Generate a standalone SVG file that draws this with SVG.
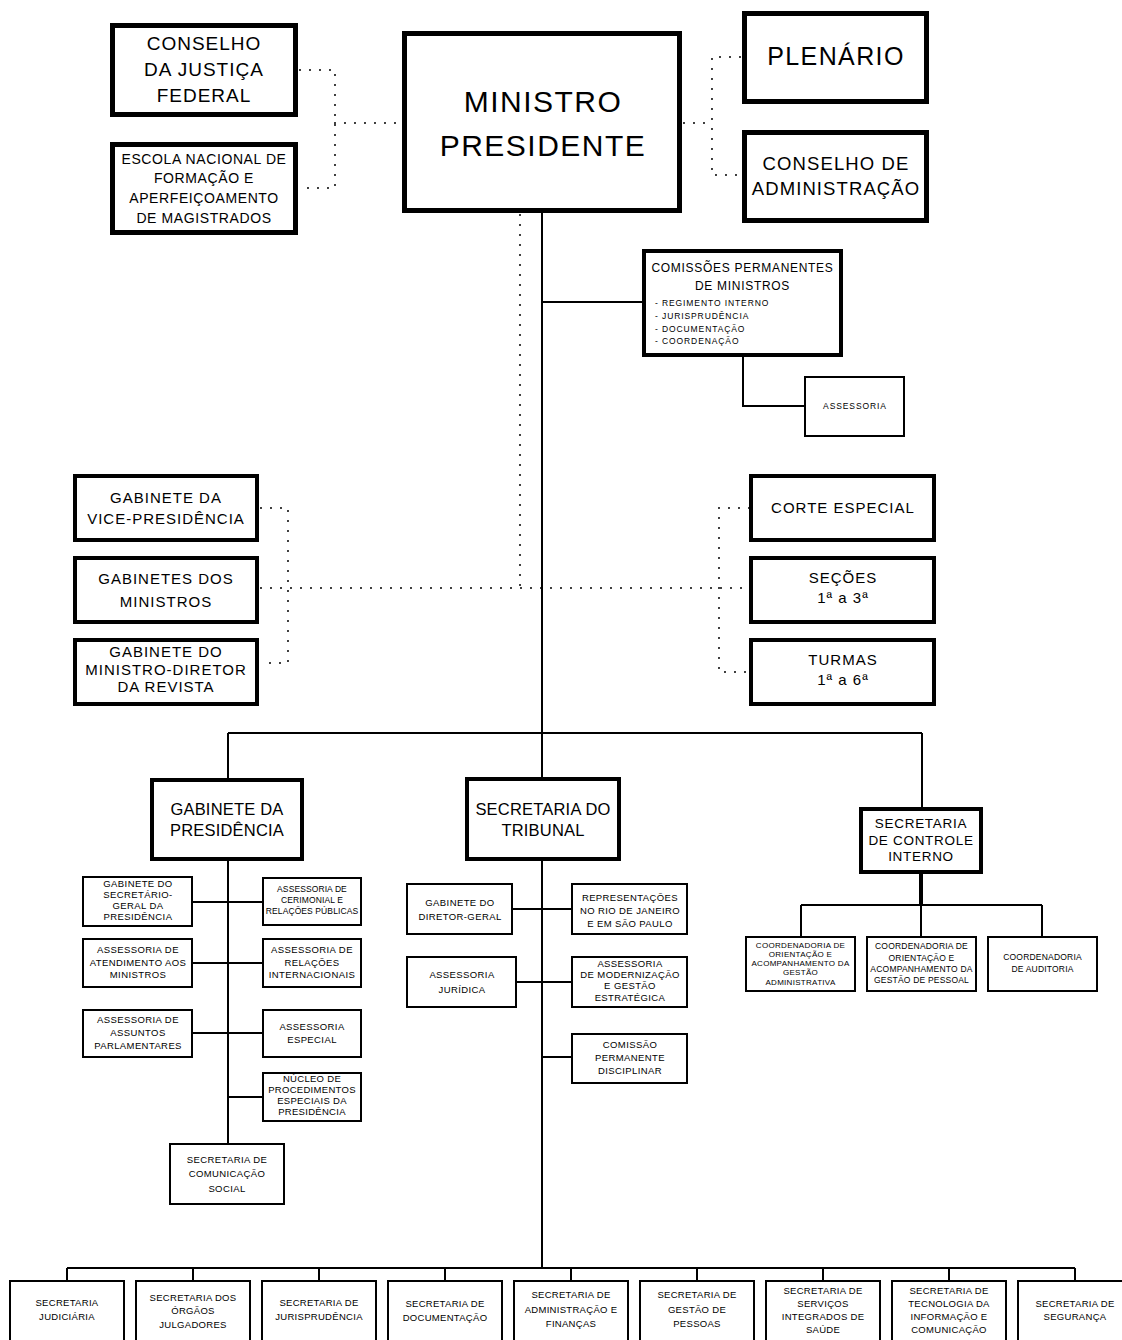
<svg xmlns="http://www.w3.org/2000/svg" width="1122" height="1340" viewBox="0 0 1122 1340">
<style>
rect{fill:#fff;stroke:#000}
.b5{stroke-width:5}
.b4{stroke-width:4}
.b2{stroke-width:2}
.ln{fill:none;stroke:#000;stroke-width:2}
.dot{fill:none;stroke:#000;stroke-width:2;stroke-dasharray:0 10;stroke-linecap:round}
text{font-family:"Liberation Sans",Arial,sans-serif;text-anchor:middle;fill:#000}
.f30{font-size:30px;letter-spacing:1.5px}
.f25{font-size:25px;letter-spacing:1.4px}
.f19{font-size:19px;letter-spacing:1px}
.f185{font-size:18.5px;letter-spacing:1.1px}
.f165{font-size:16.5px;letter-spacing:0.2px}
.f15{font-size:15px;letter-spacing:1px}
.f14{font-size:14px;letter-spacing:0.6px}
.f135{font-size:13.5px;letter-spacing:0.7px}
.f12{font-size:12px;letter-spacing:0.7px}
.f95{font-size:9.5px;letter-spacing:0.4px}
.f95b{font-size:9.5px;letter-spacing:0.3px}
.f85{font-size:8.5px;letter-spacing:0.9px}
.f85c{font-size:8.5px;letter-spacing:0.1px}
.f85d{font-size:8.5px;letter-spacing:0.2px}
.f8{font-size:8px;letter-spacing:0.3px}
.st{text-anchor:start}
</style>
<g id="connectors">
<path class="ln" d="M542 213V1268"/>
<path class="ln" d="M542 302H642"/>
<path class="ln" d="M743 357V406H804"/>
<path class="ln" d="M228 733H922M228 733V778M922 733V807"/>
<path class="ln" d="M228 861V1143M193 902H262M193 963H262M193 1033H262M228 1097H262"/>
<path class="ln" d="M513 909H571M517 982H571M542 1057H571"/>
<path class="ln" d="M921 874V905" style="stroke-width:4"/>
<path class="ln" d="M801 905H1042M801 905V936M921 905V936M1042 905V936"/>
<path class="ln" d="M67 1268H1075M67 1268V1280M193 1268V1280M319 1268V1280M445 1268V1280M571 1268V1280M697 1268V1280M823 1268V1280M949 1268V1280M1075 1268V1280"/>
<path class="dot" d="M300 70H335V188H300M335 123H402"/>
<path class="dot" d="M684 123H712M740 57H712V175H740"/>
<path class="dot" d="M520 215V588"/>
<path class="dot" d="M261 508H288V663H261M261 588H749"/>
<path class="dot" d="M749 508H719V672H749"/>
</g>
<g id="cjf"><rect class="b5" x="112.5" y="25.5" width="183" height="89"/>
<text class="f19" x="204" y="50">CONSELHO</text><text class="f19" x="204" y="76">DA JUSTIÇA</text><text class="f19" x="204" y="102">FEDERAL</text></g>
<g id="escola"><rect class="b5" x="112.5" y="144.5" width="183" height="88"/>
<text class="f14" x="204" y="164">ESCOLA NACIONAL DE</text><text class="f14" x="204" y="183">FORMAÇÃO E</text><text class="f14" x="204" y="203">APERFEIÇOAMENTO</text><text class="f14" x="204" y="223">DE MAGISTRADOS</text></g>
<g id="ministro"><rect class="b5" x="404.5" y="33.5" width="275" height="177"/>
<text class="f30" x="543" y="112">MINISTRO</text><text class="f30" x="543" y="156">PRESIDENTE</text></g>
<g id="plenario"><rect class="b5" x="744.5" y="13.5" width="182" height="88"/>
<text class="f25" x="836" y="65">PLENÁRIO</text></g>
<g id="conselho-adm"><rect class="b5" x="744.5" y="132.5" width="182" height="88"/>
<text class="f185" x="836" y="170">CONSELHO DE</text><text class="f185" x="836" y="195">ADMINISTRAÇÃO</text></g>
<g id="comissoes"><rect class="b4" x="644" y="251" width="197" height="104"/>
<text class="f12" x="742.5" y="272">COMISSÕES PERMANENTES</text><text class="f12" x="742.5" y="290">DE MINISTROS</text>
<text class="f85 st" x="655" y="306">- REGIMENTO INTERNO</text><text class="f85 st" x="655" y="319">- JURISPRUDÊNCIA</text><text class="f85 st" x="655" y="332">- DOCUMENTAÇÃO</text><text class="f85 st" x="655" y="344">- COORDENAÇÃO</text></g>
<g id="assessoria"><rect class="b2" x="805" y="377" width="99" height="59"/>
<text class="f85" x="855" y="409">ASSESSORIA</text></g>
<g id="gab-vice"><rect class="b4" x="75" y="476" width="182" height="64"/>
<text class="f15" x="166" y="503">GABINETE DA</text><text class="f15" x="166" y="524">VICE-PRESIDÊNCIA</text></g>
<g id="gab-ministros"><rect class="b4" x="75" y="558" width="182" height="64"/>
<text class="f15" x="166" y="584">GABINETES DOS</text><text class="f15" x="166" y="607">MINISTROS</text></g>
<g id="gab-revista"><rect class="b4" x="75" y="640" width="182" height="64"/>
<text class="f15" x="166" y="657">GABINETE DO</text><text class="f15" x="166" y="675">MINISTRO-DIRETOR</text><text class="f15" x="166" y="692">DA REVISTA</text></g>
<g id="corte"><rect class="b4" x="751" y="476" width="183" height="64"/>
<text class="f15" x="843" y="513">CORTE ESPECIAL</text></g>
<g id="secoes"><rect class="b4" x="751" y="558" width="183" height="64"/>
<text class="f15" x="843" y="583">SEÇÕES</text><text class="f15" x="843" y="603">1ª a 3ª</text></g>
<g id="turmas"><rect class="b4" x="751" y="640" width="183" height="64"/>
<text class="f15" x="843" y="665">TURMAS</text><text class="f15" x="843" y="685">1ª a 6ª</text></g>
<g id="gab-pres"><rect class="b4" x="152" y="780" width="150" height="79"/>
<text class="f165" x="227" y="815">GABINETE DA</text><text class="f165" x="227" y="836">PRESIDÊNCIA</text></g>
<g id="sec-tribunal"><rect class="b4" x="467" y="779" width="152" height="80"/>
<text class="f165" x="543" y="815">SECRETARIA DO</text><text class="f165" x="543" y="836">TRIBUNAL</text></g>
<g id="controle"><rect class="b4" x="861" y="809" width="120" height="63"/>
<text class="f135" x="921" y="828">SECRETARIA</text><text class="f135" x="921" y="845">DE CONTROLE</text><text class="f135" x="921" y="861">INTERNO</text></g>
<g id="gab-sec-geral"><rect class="b2" x="83" y="877" width="109" height="49"/>
<text class="f95" x="138" y="887">GABINETE DO</text><text class="f95" x="138" y="898">SECRETÁRIO-</text><text class="f95" x="138" y="909">GERAL DA</text><text class="f95" x="138" y="920">PRESIDÊNCIA</text></g>
<g id="cerimonial"><rect class="b2" x="263" y="878" width="98" height="47"/>
<text class="f85c" x="312" y="892">ASSESSORIA DE</text><text class="f85c" x="312" y="903">CERIMONIAL E</text><text class="f85c" x="312" y="914">RELAÇÕES PÚBLICAS</text></g>
<g id="atendimento"><rect class="b2" x="83" y="939" width="109" height="48"/>
<text class="f95" x="138" y="953">ASSESSORIA DE</text><text class="f95" x="138" y="966">ATENDIMENTO AOS</text><text class="f95" x="138" y="978">MINISTROS</text></g>
<g id="rel-int"><rect class="b2" x="263" y="939" width="98" height="48"/>
<text class="f95" x="312" y="953">ASSESSORIA DE</text><text class="f95" x="312" y="966">RELAÇÕES</text><text class="f95" x="312" y="978">INTERNACIONAIS</text></g>
<g id="parlamentares"><rect class="b2" x="83" y="1010" width="109" height="47"/>
<text class="f95" x="138" y="1023">ASSESSORIA DE</text><text class="f95" x="138" y="1036">ASSUNTOS</text><text class="f95" x="138" y="1049">PARLAMENTARES</text></g>
<g id="especial"><rect class="b2" x="263" y="1010" width="98" height="47"/>
<text class="f95" x="312" y="1030">ASSESSORIA</text><text class="f95" x="312" y="1043">ESPECIAL</text></g>
<g id="nucleo"><rect class="b2" x="263" y="1073" width="98" height="48"/>
<text class="f95b" x="312" y="1082">NÚCLEO DE</text><text class="f95b" x="312" y="1093">PROCEDIMENTOS</text><text class="f95b" x="312" y="1104">ESPECIAIS DA</text><text class="f95b" x="312" y="1115">PRESIDÊNCIA</text></g>
<g id="comunicacao"><rect class="b2" x="170" y="1144" width="114" height="60"/>
<text class="f95" x="227" y="1163">SECRETARIA DE</text><text class="f95" x="227" y="1177">COMUNICAÇÃO</text><text class="f95" x="227" y="1192">SOCIAL</text></g>
<g id="gab-dg"><rect class="b2" x="407" y="884" width="105" height="50"/>
<text class="f95" x="460" y="906">GABINETE DO</text><text class="f95" x="460" y="920">DIRETOR-GERAL</text></g>
<g id="representacoes"><rect class="b2" x="572" y="884" width="115" height="50"/>
<text class="f95" x="630" y="901">REPRESENTAÇÕES</text><text class="f95" x="630" y="914">NO RIO DE JANEIRO</text><text class="f95" x="630" y="927">E EM SÃO PAULO</text></g>
<g id="juridica"><rect class="b2" x="407" y="957" width="109" height="50"/>
<text class="f95" x="462" y="978">ASSESSORIA</text><text class="f95" x="462" y="993">JURÍDICA</text></g>
<g id="modernizacao"><rect class="b2" x="572" y="957" width="115" height="50"/>
<text class="f95" x="630" y="967">ASSESSORIA</text><text class="f95" x="630" y="978">DE MODERNIZAÇÃO</text><text class="f95" x="630" y="989">E GESTÃO</text><text class="f95" x="630" y="1001">ESTRATÉGICA</text></g>
<g id="disciplinar"><rect class="b2" x="572" y="1034" width="115" height="49"/>
<text class="f95" x="630" y="1048">COMISSÃO</text><text class="f95" x="630" y="1061">PERMANENTE</text><text class="f95" x="630" y="1074">DISCIPLINAR</text></g>
<g id="coord-adm"><rect class="b2" x="746" y="937" width="109" height="54"/>
<text class="f8" x="800.5" y="948">COORDENADORIA DE</text><text class="f8" x="800.5" y="957">ORIENTAÇÃO E</text><text class="f8" x="800.5" y="966">ACOMPANHAMENTO DA</text><text class="f8" x="800.5" y="975">GESTÃO</text><text class="f8" x="800.5" y="985">ADMINISTRATIVA</text></g>
<g id="coord-pes"><rect class="b2" x="867" y="937" width="109" height="54"/>
<text class="f85d" x="921.5" y="949">COORDENADORIA DE</text><text class="f85d" x="921.5" y="961">ORIENTAÇÃO E</text><text class="f85d" x="921.5" y="972">ACOMPANHAMENTO DA</text><text class="f85d" x="921.5" y="983">GESTÃO DE PESSOAL</text></g>
<g id="coord-aud"><rect class="b2" x="988" y="937" width="109" height="54"/>
<text class="f85d" x="1042.5" y="960">COORDENADORIA</text><text class="f85d" x="1042.5" y="972">DE AUDITORIA</text></g>
<g id="sec-judiciaria"><rect class="b2" x="10" y="1281" width="114" height="80"/>
<text class="f95b" x="67" y="1306">SECRETARIA</text><text class="f95b" x="67" y="1320">JUDICIÁRIA</text></g>
<g id="sec-orgaos"><rect class="b2" x="136" y="1281" width="114" height="80"/>
<text class="f95b" x="193" y="1301">SECRETARIA DOS</text><text class="f95b" x="193" y="1314">ÓRGÃOS</text><text class="f95b" x="193" y="1328">JULGADORES</text></g>
<g id="sec-juris"><rect class="b2" x="262" y="1281" width="114" height="80"/>
<text class="f95b" x="319" y="1306">SECRETARIA DE</text><text class="f95b" x="319" y="1320">JURISPRUDÊNCIA</text></g>
<g id="sec-doc"><rect class="b2" x="388" y="1281" width="114" height="80"/>
<text class="f95b" x="445" y="1307">SECRETARIA DE</text><text class="f95b" x="445" y="1321">DOCUMENTAÇÃO</text></g>
<g id="sec-adm"><rect class="b2" x="514" y="1281" width="114" height="80"/>
<text class="f95b" x="571" y="1298">SECRETARIA DE</text><text class="f95b" x="571" y="1313">ADMINISTRAÇÃO E</text><text class="f95b" x="571" y="1327">FINANÇAS</text></g>
<g id="sec-pessoas"><rect class="b2" x="640" y="1281" width="114" height="80"/>
<text class="f95b" x="697" y="1298">SECRETARIA DE</text><text class="f95b" x="697" y="1313">GESTÃO DE</text><text class="f95b" x="697" y="1327">PESSOAS</text></g>
<g id="sec-saude"><rect class="b2" x="766" y="1281" width="114" height="80"/>
<text class="f95b" x="823" y="1294">SECRETARIA DE</text><text class="f95b" x="823" y="1307">SERVIÇOS</text><text class="f95b" x="823" y="1320">INTEGRADOS DE</text><text class="f95b" x="823" y="1333">SAÚDE</text></g>
<g id="sec-ti"><rect class="b2" x="892" y="1281" width="114" height="80"/>
<text class="f95b" x="949" y="1294">SECRETARIA DE</text><text class="f95b" x="949" y="1307">TECNOLOGIA DA</text><text class="f95b" x="949" y="1320">INFORMAÇÃO E</text><text class="f95b" x="949" y="1333">COMUNICAÇÃO</text></g>
<g id="sec-seg"><rect class="b2" x="1018" y="1281" width="114" height="80"/>
<text class="f95b" x="1075" y="1307">SECRETARIA DE</text><text class="f95b" x="1075" y="1320">SEGURANÇA</text></g>
</svg>
